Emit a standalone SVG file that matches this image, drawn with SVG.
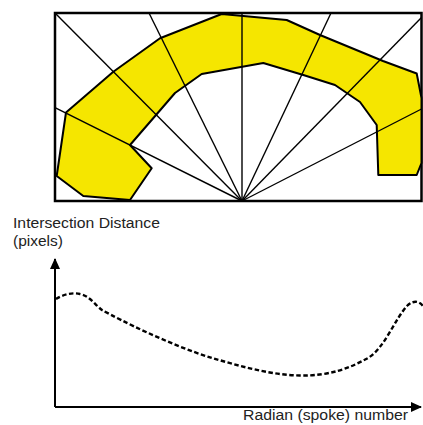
<svg xmlns="http://www.w3.org/2000/svg" width="423" height="425" viewBox="0 0 423 425">
<style>
.frame{fill:none;stroke:#000;stroke-width:2.5}
.shape{fill:#f5e600;stroke:#000;stroke-width:2;stroke-linejoin:round}
.spoke{stroke:#000;stroke-width:1.4;fill:none}
.axis{stroke:#000;stroke-width:2;fill:none}
.curve{stroke:#000;stroke-width:2.4;fill:none;stroke-dasharray:4.5 2.5}
.lbl{font-family:"Liberation Sans",Arial,sans-serif;font-size:15.5px;fill:#222}
</style>
<defs>
<marker id="ah" markerWidth="11" markerHeight="10" refX="10" refY="5" orient="auto" markerUnits="userSpaceOnUse" viewBox="0 0 11 10">
<path d="M0,0 L11,5 L0,10 Z" fill="#000"/>
</marker>
</defs>
<g id="scene">
<rect class="frame" x="55" y="13" width="366.5" height="188"/>
<polygon id="shape" class="shape" points="56.7,176 66,112.5 113.3,71.7 160,38.3 221.7,14 286.7,20 320,35 383,61 416.7,73.5 421.5,98 421.5,163 416.7,175 378.3,175 376.7,125 360,102 335,85 303.3,75 263.3,63 201.7,74 175,93 156,115 130,145 151.7,168.3 130,200 83.3,196"/>
</g>
<g id="spokes">
<line class="spoke" x1="242" y1="201" x2="55" y2="107.7"/>
<line class="spoke" x1="242" y1="201" x2="55" y2="13"/>
<line class="spoke" x1="242" y1="201" x2="149" y2="13"/>
<line class="spoke" x1="242" y1="201" x2="242" y2="13"/>
<line class="spoke" x1="242" y1="201" x2="331" y2="13"/>
<line class="spoke" x1="242" y1="201" x2="421.5" y2="17.5"/>
<line class="spoke" x1="242" y1="201" x2="421.5" y2="109"/>
</g>
<g id="chart">
<line class="axis" x1="55" y1="407" x2="55" y2="259" marker-end="url(#ah)"/>
<line class="axis" x1="55" y1="407" x2="421" y2="407" marker-end="url(#ah)"/>
<path class="curve" d="M56,299 C62,295 72,292 80,294 C90,296 95,305 102,310 C120,320 170,345 212,358 C240,366 270,375 300,375.5 C330,376 350,368 368,358 C385,348 395,318 408,305 C414,300 419,301 423,306"/>
</g>
<g id="labels">
<text class="lbl" x="13" y="228" textLength="147" lengthAdjust="spacingAndGlyphs">Intersection Distance</text>
<text class="lbl" x="13" y="245.5">(pixels)</text>
<text class="lbl" x="243" y="420" textLength="165" lengthAdjust="spacingAndGlyphs">Radian (spoke) number</text>
</g>
</svg>
